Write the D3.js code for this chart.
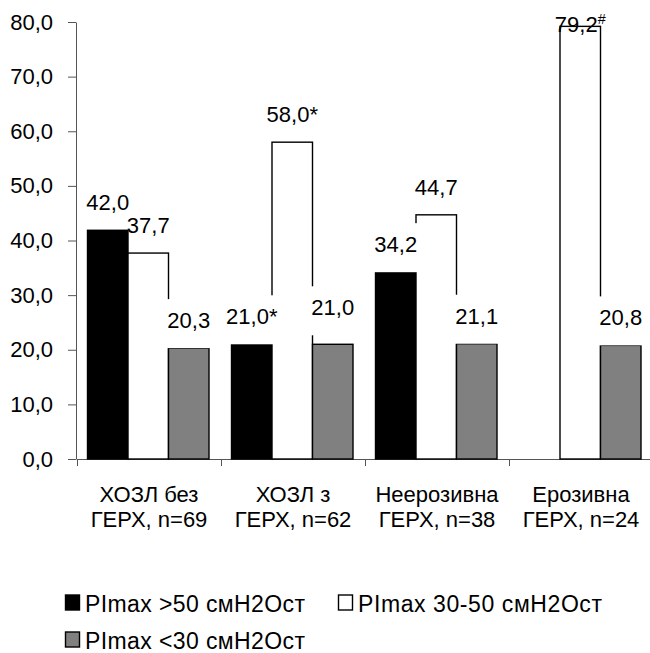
<!DOCTYPE html>
<html><head><meta charset="utf-8">
<script src="https://cdn.jsdelivr.net/npm/d3@7"></script>
<style>
body{margin:0;background:#fff}
text{font-family:"Liberation Sans",Arial,sans-serif;fill:#000}
</style>
</head><body>
<svg id="c" width="650" height="653"></svg>
<script>
const categories = [["ХОЗЛ без","ГЕРХ, n=69"],["ХОЗЛ з","ГЕРХ, n=62"],["Неерозивна","ГЕРХ, n=38"],["Ерозивна","ГЕРХ, n=24"]];
const seriesNames = ["PImax >50 смН2Ост","PImax 30-50 смН2Ост","PImax <30 смН2Ост"];
const seriesHigh = [42.0, 21.0, 34.2, null];
const seriesMid = [37.7, 58.0, 44.7, 79.2];
const seriesLow = [20.3, 21.0, 21.1, 20.8];
const marksHigh = ["", "*", "", ""];
const marksMid = ["", "*", "", "#"];
const marksLow = ["", "", "", ""];
const yTicks = [0,10,20,30,40,50,60,70,80];
const seriesFill = ["#000000","#ffffff","#808080"];

const series = [seriesHigh, seriesMid, seriesLow];
const marks = [marksHigh, marksMid, marksLow];
const fmt = d3.formatLocale({decimal:",", thousands:" ", grouping:[3], currency:["",""]}).format(".1f");

const svg = d3.select("#c");
const FS = 22;
const x0 = d3.scaleBand().domain(d3.range(categories.length)).range([77, 653]).padding(0);
const x1 = d3.scaleBand().domain(d3.range(series.length)).range([10.5, 132]).padding(0);
const y = d3.scaleLinear().domain([0, 80]).range([459, 22]);
const xb = d3.scaleLinear().domain([0, categories.length]).range([77, 653]);

// y axis
const ya = svg.append("g").attr("transform","translate(76,0)")
  .call(d3.axisLeft(y).tickValues(yTicks).tickSize(8).tickSizeOuter(0).tickPadding(15).tickFormat(fmt));
ya.selectAll("path,line").attr("stroke","#555").attr("stroke-width",1);
ya.selectAll("text").attr("font-size",FS).attr("fill","#000");

// x axis
const xa = svg.append("g").attr("transform","translate(0,459)")
  .call(d3.axisBottom(xb).tickValues(d3.range(categories.length+1)).tickSize(7).tickSizeOuter(0).tickFormat(""));
xa.selectAll("path,line").attr("stroke","#555").attr("stroke-width",1);

// bars
const bars = svg.append("g");
series.forEach((s, si) => {
  bars.selectAll(null).data(s.map((v,i)=>({v,i}))).enter()
    .filter(d => d.v != null)
    .append("rect")
    .attr("x", d => x0(d.i) + x1(si))
    .attr("width", x1.bandwidth())
    .attr("y", d => y(d.v))
    .attr("height", d => y(0) - y(d.v))
    .attr("fill", seriesFill[si])
    .attr("stroke", "#000")
    .attr("stroke-width", 1.4);
});

// labels
const lab = svg.append("g");
series.forEach((s, si) => {
  s.forEach((v, i) => {
    if (v == null) return;
    let base = y(v) - 20;
    if (si === 2 && i === 1) base -= 9;
    base = Math.max(base, 32);
    const cx = x0(i) + x1(si) + x1.bandwidth()/2;
    const g = lab.append("g");
    const t = g.append("text").attr("x", cx).attr("y", base)
      .attr("text-anchor","middle").attr("font-size", FS);
    t.append("tspan").text(fmt(v));
    const m = marks[si][i];
    if (m === "#") {
      t.append("tspan").attr("font-size", FS*0.65).attr("dy", -8).text(m);
    } else if (m) {
      t.append("tspan").text(m);
    }
    if (si !== 1) {
      const bb = t.node().getBBox();
      g.insert("rect","text").attr("x", bb.x - 3).attr("width", bb.width + 6)
        .attr("y", base - 29).attr("height", 49).attr("fill","#fff");
    }
  });
});

// category labels
const cl = svg.append("g");
categories.forEach((c, i) => {
  const cx = x0(i) + x0.bandwidth()/2;
  c.forEach((line, li) => {
    cl.append("text").attr("x", cx).attr("y", 502 + li*25)
      .attr("text-anchor","middle").attr("font-size", FS).text(line);
  });
});

// legend
const legendPos = [[65.5, 595], [338.5, 595], [65.5, 632]];
const legendLen = [220, 244, 220];
const lg = svg.append("g");
seriesNames.forEach((n, si) => {
  const [lx, ly] = legendPos[si];
  lg.append("rect").attr("x", lx).attr("y", ly).attr("width", 14).attr("height", 15)
    .attr("fill", seriesFill[si]).attr("stroke","#000").attr("stroke-width",1.4);
  lg.append("text").attr("x", lx + 19.5).attr("y", ly + 16.5).attr("font-size", 23)
    .attr("textLength", legendLen[si]).attr("lengthAdjust","spacing").text(n);
});
</script>
</body></html>
